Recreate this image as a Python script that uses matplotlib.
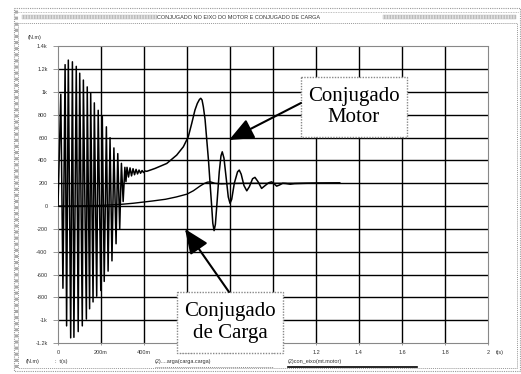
import matplotlib
matplotlib.use("Agg")
import matplotlib.pyplot as plt
from matplotlib.patches import Rectangle

W, H, DPI = 521, 374, 100

# Motor shaft torque (N.m) against time (s)
t_motor = [0.000, 0.013, 0.023, 0.033, 0.040, 0.048, 0.059, 0.067, 0.074, 0.085,
           0.094, 0.101, 0.113, 0.118, 0.132, 0.136, 0.147, 0.152, 0.163, 0.169,
           0.180, 0.187, 0.199, 0.206, 0.215, 0.225, 0.233, 0.242, 0.251, 0.260,
           0.270, 0.278, 0.287, 0.295, 0.303, 0.311, 0.316, 0.321, 0.328, 0.335,
           0.342, 0.349, 0.356, 0.363, 0.370, 0.377, 0.384, 0.391, 0.398, 0.405,
           0.413, 0.451, 0.506, 0.552, 0.583, 0.606, 0.622, 0.637, 0.648, 0.658,
           0.664, 0.670, 0.676, 0.684, 0.692, 0.700, 0.708, 0.715, 0.720, 0.726,
           0.732, 0.740, 0.750, 0.758, 0.764, 0.772, 0.782, 0.792, 0.800, 0.808,
           0.820, 0.835, 0.843, 0.852, 0.865, 0.878, 0.890, 0.905, 0.916, 0.930,
           0.947, 0.960, 0.980, 0.994, 1.005, 1.017, 1.030, 1.045, 1.060, 1.080,
           1.100, 1.150, 1.200, 1.250, 1.310]
tq_motor = [0, 980, -720, 1240, -1050, 1280, -1155, 1265, -1150, 1225,
            -1100, 1165, -1050, 1105, -990, 1045, -900, 990, -840, 905,
            -790, 840, -740, 790, -660, 695, -570, 600, -480, 510,
            -330, 460, -200, 375, 40, 340, 215, 340, 255, 335,
            265, 328, 275, 322, 282, 316, 288, 312, 294, 308,
            305, 330, 374, 447, 520, 608, 725, 842, 900, 935,
            945, 930, 871, 760, 579, 400, 180, -6, -150, -215,
            -160, 40, 300, 440, 476, 420, 250, 80, 25, 60,
            200, 300, 316, 280, 180, 134, 170, 240, 252, 215,
            155, 175, 205, 213, 195, 175, 185, 200, 198, 192,
            197, 200, 202, 203, 204]

# Load torque (N.m) against time (s)
t_load = [0.00, 0.10, 0.20, 0.29, 0.35, 0.44, 0.50, 0.55, 0.60, 0.63,
          0.66, 0.68, 0.695, 0.71, 0.73, 0.76, 0.80, 0.85, 1.00, 1.31]
tq_load = [0, 2, 6, 15, 25, 45, 60, 80, 105, 135,
           175, 198, 210, 212, 200, 195, 198, 200, 200, 200]

y_ticks = [-1200, -1000, -800, -600, -400, -200, 0, 200, 400, 600, 800, 1000, 1200, 1400]
y_tick_labels = ['-1.2k', '-1k', '-800', '-600', '-400', '-200', '0',
                 '200', '400', '600', '800', '1k', '1.2k', '1.4k']
x_ticks = [0, 0.2, 0.4, 0.6, 0.8, 1.0, 1.2, 1.4, 1.6, 1.8, 2.0]
x_tick_labels = ['0', '200m', '400m', '600m', '800m', '1', '1.2', '1.4', '1.6', '1.8', '2']

title = 'CONJUGADO NO EIXO DO MOTOR E CONJUGADO DE CARGA'
small = dict(family='Liberation Sans', fontsize=4, color='#333333')

fig = plt.figure(figsize=(W / DPI, H / DPI), dpi=DPI)
fig.patch.set_facecolor('white')

# main plotting area, placed in pixel terms
x0, x1, y_top, y_bot = 58, 488, 46.4, 343
ax = fig.add_axes([x0 / W, 1 - y_bot / H, (x1 - x0) / W, (y_bot - y_top) / H])
ax.set_xlim(0, 2)
ax.set_ylim(-1200, 1400)
ax.set_xticks(x_ticks)
ax.set_xticklabels(x_tick_labels, **small)
ax.set_yticks(y_ticks)
ax.set_yticklabels(y_tick_labels, **small)
ax.tick_params(axis='y', length=3.5, width=0.6, color='#888888', pad=4)
ax.tick_params(axis='x', length=1.5, width=0.6, color='#888888', pad=3.5)
for s in ax.spines.values():
    s.set_linestyle((0, (1, 1)))
    s.set_color('#888888')
    s.set_linewidth(0.8)
ax.grid(True, color='black', lw=1.0)
for gl in (ax.get_ygridlines()[0], ax.get_ygridlines()[-1],
           ax.get_xgridlines()[0], ax.get_xgridlines()[-1]):
    gl.set_visible(False)
ax.set_axisbelow(True)

ax.plot(t_motor, tq_motor, color='black', lw=1.1, zorder=3)
ax.plot(t_load, tq_load, color='black', lw=1.0, zorder=3)

# overlay in pixel coordinates for frame, captions and callouts
ov = fig.add_axes([0, 0, 1, 1], zorder=5)
ov.set_xlim(0, W)
ov.set_ylim(H, 0)
ov.axis('off')
ov.patch.set_alpha(0)

dot = (0, (1, 1))
ov.add_patch(Rectangle((13.5, 8), 506, 362.5, fill=False, ec='#999999', lw=0.8, ls=dot))
ov.add_patch(Rectangle((18, 22.5), 499, 345.5, fill=False, ec='#999999', lw=0.7, ls=dot))
ov.plot([15.5, 15.5], [10, 369], color='#aaaaaa', lw=2.2, ls=dot)
ov.plot([14, 519], [12, 12], color='#aaaaaa', lw=0.6, ls=dot)

# title bar
for xa, xb in ((22, 157), (383, 516)):
    ov.add_patch(Rectangle((xa, 14.5), xb - xa, 4, fc='#e4e4e4', ec='#bbbbbb',
                           lw=0.3, hatch='||||||'))
ov.text(238.5, 17, title, ha='center', va='center', **small)

ov.text(35, 37, '(N.m)', ha='center', va='center', **small)
ov.text(500, 352.5, 't(s)', ha='center', va='center', **small)

# bottom legend row
ov.text(26, 362, '(N.m)', ha='left', va='center', **small)
ov.text(55, 362, ':  t(s)', ha='left', va='center', **small)
ov.text(155, 362, '(2)....arga(carga.carga)', ha='left', va='center', **small)
ov.plot([155, 273], [366.5, 366.5], color='#888888', lw=0.7, ls=dot)
ov.text(288, 362, '(2)con_eixo(mt.motor)', ha='left', va='center', **small)
ov.plot([288, 417], [366.5, 366.5], color='black', lw=1.2)

# callouts
serif = dict(family='Liberation Serif', fontsize=15, color='black', linespacing=1.15)
arrow = dict(arrowstyle='-|>,head_length=0.75,head_width=0.32', mutation_scale=20,
             lw=1.5, color='black', shrinkA=0, shrinkB=0)

ov.annotate('', xy=(229, 140), xytext=(301, 103), arrowprops=arrow)
ov.add_patch(Rectangle((301, 77), 106, 60, fc='white', ec='#888888', lw=1, ls=dot))
ov.text(354, 107, 'Conjugado\nMotor', ha='center', va='center', **serif)

ov.annotate('', xy=(185, 229), xytext=(229, 292), arrowprops=arrow)
ov.add_patch(Rectangle((177, 292), 106, 61, fc='white', ec='#888888', lw=1, ls=dot))
ov.text(230, 322.5, 'Conjugado\nde Carga', ha='center', va='center', **serif)

fig.savefig('out.png', dpi=DPI, facecolor='white')
